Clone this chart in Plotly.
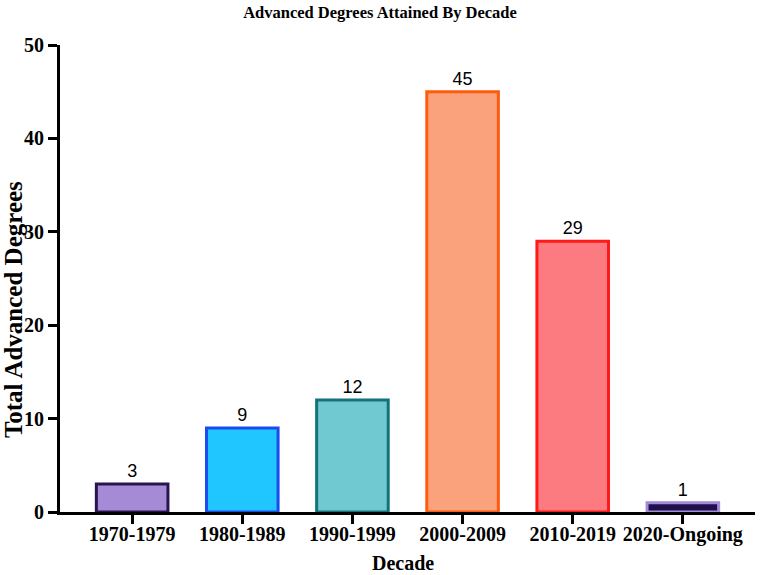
import plotly.graph_objects as go

decades = ["1970-1979", "1980-1989", "1990-1999", "2000-2009", "2010-2019", "2020-Ongoing"]
degrees = [3, 9, 12, 45, 29, 1]
y_ticks = [0, 10, 20, 30, 40, 50]
fill_colors = ["#a58bd6", "#1fc6ff", "#70c8d0", "#f9a27c", "#fb7b80", "#1f0f4d"]
line_colors = ["#2a1450", "#1a4cf0", "#14737a", "#ff5a0e", "#ff1a1a", "#a58bd6"]

fig = go.Figure(go.Bar(
    x=decades, y=degrees,
    width=0.65,
    marker=dict(color=fill_colors, line=dict(color=line_colors, width=3)),
    text=[str(v) for v in degrees],
    textposition="outside",
    textfont=dict(family="Liberation Sans, Arial", size=18, color="black"),
    cliponaxis=False,
))

serif = "Liberation Serif, Times New Roman, serif"
fig.update_layout(
    width=760, height=575,
    margin=dict(l=60, r=5, t=45, b=63, autoexpand=False),
    paper_bgcolor="white", plot_bgcolor="white",
    showlegend=False,
    title=dict(text="<b>Advanced Degrees Attained By Decade</b>", x=0.5, xanchor="center",
               y=0.988, yanchor="top", font=dict(family=serif, size=16.5, color="black")),
    xaxis=dict(range=[-0.655, 5.655], showline=True, linewidth=3, linecolor="black",
               ticks="outside", ticklen=9, tickwidth=3, tickcolor="black",
               tickmode="array", tickvals=decades, ticktext=[f"<b>{d}</b>" for d in decades],
               tickfont=dict(family=serif, size=20, color="black"), ticklabelstandoff=-7,
               showgrid=False, zeroline=False, automargin=False),
    yaxis=dict(range=[0, 50], tickmode="array", tickvals=y_ticks, ticktext=[f"<b>{t}</b>" for t in y_ticks],
               showline=True, linewidth=3, linecolor="black",
               ticks="outside", ticklen=9, tickwidth=3, tickcolor="black",
               tickfont=dict(family=serif, size=20, color="black"),
               showgrid=False, zeroline=False, automargin=False),
    annotations=[
        dict(text="<b>Total Advanced Degrees</b>", xref="paper", yref="paper", x=-0.0675, y=0.4325,
             textangle=-90, showarrow=False, xanchor="center", yanchor="middle",
             font=dict(family=serif, size=25, color="black")),
        dict(text="<b>Decade</b>", xref="paper", yref="paper", x=0.4934, y=-0.1096,
             showarrow=False, xanchor="center", yanchor="middle",
             font=dict(family=serif, size=20, color="black")),
    ],
)

fig.write_html("out.html", config={"displayModeBar": False},
               post_script="document.body.style.margin='0px';")
